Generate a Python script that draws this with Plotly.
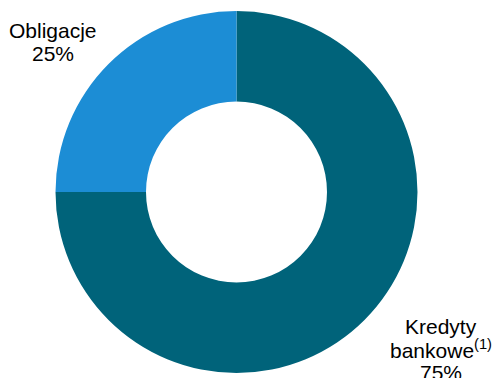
import plotly.graph_objects as go

labels = ["Kredyty bankowe", "Obligacje"]
values = [75, 25]
colors = ["#00637A", "#1C8DD5"]
label_lines = [["Kredyty", "bankowe<sup>(1)</sup>", "75%"], ["Obligacje", "25%"]]

W, H = 493, 378
cx, cy, R = 236.5, 192, 181

fig = go.Figure(go.Pie(
    labels=labels, values=values, hole=0.5, sort=False, direction="clockwise",
    rotation=0, marker=dict(colors=colors, line=dict(width=0)),
    textinfo="none", hoverinfo="label+percent", showlegend=False,
    domain=dict(x=[(cx - R) / W, (cx + R) / W], y=[1 - (cy + R) / H, 1 - (cy - R) / H]),
))

font = dict(family="Liberation Sans, Arial, sans-serif", size=21, color="#000000")
# label anchor positions (pixels): centre x, list of line centre y
pos = [(441, [326, 349, 372]), (52.5, [31, 53])]
for lines, (px, ys) in zip(label_lines, pos):
    for t, py in zip(lines, ys):
        fig.add_annotation(text=t, x=px / W, y=1 - py / H, xref="paper", yref="paper",
                           xanchor="center", yanchor="middle", showarrow=False, font=font)

fig.update_layout(width=W, height=H, margin=dict(l=0, r=0, t=0, b=0),
                  paper_bgcolor="white", plot_bgcolor="white")
fig.write_html("out.html")
